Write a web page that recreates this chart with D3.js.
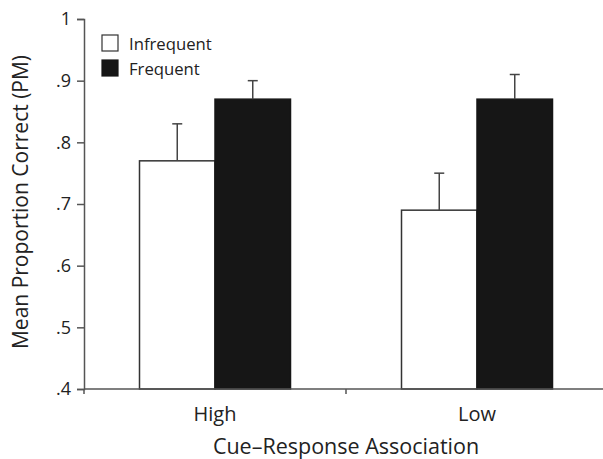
<!DOCTYPE html>
<html>
<head>
<meta charset="utf-8">
<script src="https://cdn.jsdelivr.net/npm/d3@7"></script>
<style>
  body { margin: 0; background: #fff; }
  text { font-family: "Open Sans", sans-serif; fill: #222; }
</style>
</head>
<body>
<svg id="chart"></svg>
<script>
// Chart data
const groups = ['High', 'Low'];
const conditions = ['Infrequent', 'Frequent'];
const means = [[0.77, 0.87], [0.69, 0.87]];
const errors = [[0.06, 0.03], [0.06, 0.04]];
const yTicks = [0.4, 0.5, 0.6, 0.7, 0.8, 0.9, 1];
const condFill = ['#fff', '#161616'];

const width = 603;
const height = 459;
const padding = { top: 19, right: -5, bottom: 70, left: 84 };

const svg = d3.select('#chart')
  .attr('width', width)
  .attr('height', height);

const xScale = d3.scaleBand()
  .domain(groups)
  .range([padding.left, width - padding.right])
  .paddingInner(0)
  .paddingOuter(0);

const innerScale = d3.scaleBand()
  .domain(conditions)
  .range([0, 151]);

const yScale = d3.scaleLinear()
  .domain([0.4, 1])
  .range([height - padding.bottom, padding.top]);

const fmt = v => v === 1 ? '1' : d3.format('.1f')(v).replace(/^0/, '');

// Bars first so the axes sit on top
const data = [];
groups.forEach((g, i) => conditions.forEach((c, j) => {
  data.push({ g, c, j, v: means[i][j], e: errors[i][j] });
}));

const bx = d => xScale(d.g) + (xScale.bandwidth() - 151) / 2 + innerScale(d.c);

svg.append('g').selectAll('rect')
  .data(data)
  .join('rect')
  .attr('x', bx)
  .attr('y', d => yScale(d.v))
  .attr('width', innerScale.bandwidth())
  .attr('height', d => yScale(0.4) - yScale(d.v))
  .attr('fill', d => condFill[d.j])
  .attr('stroke', d => d.j === 0 ? '#333' : '#161616')
  .attr('stroke-width', 1.5);

// Error bars (upper only)
const err = svg.append('g')
  .attr('stroke', '#444')
  .attr('stroke-width', 1.5);
err.selectAll('line.v')
  .data(data)
  .join('line')
  .attr('class', 'v')
  .attr('x1', d => bx(d) + innerScale.bandwidth() / 2)
  .attr('x2', d => bx(d) + innerScale.bandwidth() / 2)
  .attr('y1', d => yScale(d.v))
  .attr('y2', d => yScale(d.v + d.e));
err.selectAll('line.cap')
  .data(data)
  .join('line')
  .attr('class', 'cap')
  .attr('x1', d => bx(d) + innerScale.bandwidth() / 2 - 5)
  .attr('x2', d => bx(d) + innerScale.bandwidth() / 2 + 5)
  .attr('y1', d => yScale(d.v + d.e))
  .attr('y2', d => yScale(d.v + d.e));

// Axes
const yAxis = svg.append('g')
  .attr('transform', `translate(${padding.left}, 0)`)
  .call(d3.axisLeft(yScale).tickValues(yTicks).tickFormat(fmt).tickSize(7).tickPadding(6));

const xAxis = svg.append('g')
  .attr('transform', `translate(0, ${height - padding.bottom})`)
  .call(d3.axisBottom(xScale).tickSize(0).tickPadding(18));

// Ticks on the x axis sit at band boundaries
xAxis.selectAll('.bound')
  .data([padding.left, xScale('Low')])
  .join('line')
  .attr('x1', d => d).attr('x2', d => d)
  .attr('y1', 0).attr('y2', 5)
  .attr('stroke', '#555').attr('stroke-width', 1.5);

[yAxis, xAxis].forEach(ax => {
  ax.select('.domain').attr('stroke', '#555').attr('stroke-width', 1.5);
  ax.selectAll('.tick line').attr('stroke', '#555').attr('stroke-width', 1.5);
  ax.selectAll('.tick text').style('font-family', '"Open Sans", sans-serif')
    .attr('fill', '#222');
});
yAxis.selectAll('.tick text').attr('font-size', 18);
xAxis.selectAll('.tick text').attr('font-size', 20);
xAxis.select('.domain').attr('d', `M${padding.left},0H${width}`);

// Axis titles
svg.append('text')
  .attr('x', (padding.left + width - padding.right) / 2)
  .attr('y', 454)
  .attr('text-anchor', 'middle')
  .attr('font-size', 21.5)
  .text('Cue–Response Association');

svg.append('text')
  .attr('transform', `translate(28, ${(yScale(0.4) + yScale(1)) / 2 - 2}) rotate(-90)`)
  .attr('text-anchor', 'middle')
  .attr('font-size', 21)
  .text('Mean Proportion Correct (PM)');

// Legend
const legend = svg.append('g').attr('transform', 'translate(102, 35)');
conditions.forEach((c, j) => {
  const row = legend.append('g').attr('transform', `translate(0, ${j * 25})`);
  row.append('rect')
    .attr('width', 16).attr('height', 16)
    .attr('fill', condFill[j])
    .attr('stroke', j === 0 ? '#333' : '#161616')
    .attr('stroke-width', 1.2);
  row.append('text')
    .attr('x', 27).attr('y', 14.5)
    .attr('font-size', 16.7)
    .text(c);
});
</script>
</body>
</html>
